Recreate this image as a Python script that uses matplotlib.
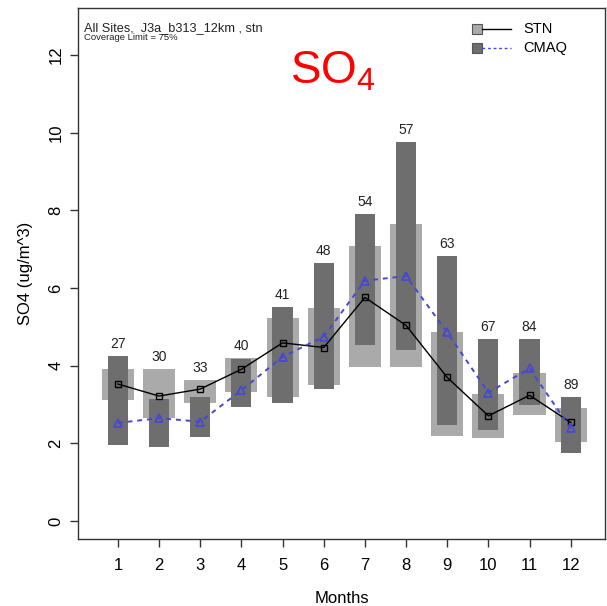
import matplotlib
matplotlib.use("Agg")
import matplotlib.pyplot as plt
from matplotlib.patches import Rectangle
from matplotlib.lines import Line2D

plt.rcParams['font.family'] = ['Liberation Sans', 'DejaVu Sans']

months = [1, 2, 3, 4, 5, 6, 7, 8, 9, 10, 11, 12]
counts = [27, 30, 33, 40, 41, 48, 54, 57, 63, 67, 84, 89]
stn_q1 = [3.12, 2.65, 3.05, 3.33, 3.20, 3.50, 3.96, 3.97, 2.19, 2.15, 2.73, 2.03]
stn_q3 = [3.91, 3.91, 3.63, 4.21, 5.22, 5.49, 7.09, 7.64, 4.88, 3.27, 3.82, 2.92]
cmaq_q1 = [1.97, 1.91, 2.17, 2.93, 3.03, 3.40, 4.53, 4.40, 2.47, 2.34, 2.99, 1.76]
cmaq_q3 = [4.25, 3.14, 3.20, 4.18, 5.52, 6.64, 7.90, 9.75, 6.82, 4.68, 4.68, 3.20]
stn_median = [3.53, 3.22, 3.40, 3.91, 4.59, 4.47, 5.76, 5.04, 3.70, 2.71, 3.24, 2.54]
cmaq_median = [2.53, 2.65, 2.56, 3.37, 4.23, 4.75, 6.19, 6.31, 4.86, 3.31, 3.93, 2.39]

light = '#aaaaaa'
dark = '#6e6e6e'
blue = '#4646d8'

fig = plt.figure(figsize=(6.07, 6.06), dpi=100)
ax = fig.add_axes([0.1285, 0.1106, 0.868, 0.876])

ax.bar(months, [b - a for a, b in zip(stn_q1, stn_q3)], bottom=stn_q1,
       width=0.78, color=light, edgecolor='none', zorder=1)
ax.bar(months, [b - a for a, b in zip(cmaq_q1, cmaq_q3)], bottom=cmaq_q1,
       width=0.49, color=dark, edgecolor='none', zorder=2)

ax.plot(months, stn_median, color='black', lw=1.0, marker='s', ms=5,
        mfc='none', mec='black', mew=1.0, zorder=4)
ax.plot(months, cmaq_median, color=blue, lw=1.4, ls=(0, (2.5, 2.5)), marker='^',
        ms=5.5, mfc='none', mec=blue, mew=1.2, zorder=5)

for m, c, t1, t2 in zip(months, counts, stn_q3, cmaq_q3):
    ax.text(m, max(t1, t2) + 0.31, str(c), ha='center', va='center', fontsize=10,
            color='#222222')

ax.set_xlim(0.03, 12.83)
ax.set_ylim(-0.46, 13.21)
ax.set_xticks(months)
ax.set_yticks([0, 2, 4, 6, 8, 10, 12])
ax.tick_params(direction='out', length=6, width=1, labelsize=12, color='#333333')
ax.tick_params(axis='x', pad=8)
ax.tick_params(axis='y', pad=4.5)
for lab in ax.get_yticklabels():
    lab.set_rotation(90)
    lab.set_va('center')
for s in ax.spines.values():
    s.set_color('#333333')
    s.set_linewidth(1.0)

ax.set_xlabel('Months', fontsize=12, labelpad=13)
ax.set_ylabel('SO4 (ug/m^3)', fontsize=12, labelpad=11)

ax.text(0.012, 0.962, 'All Sites,  J3a_b313_12km , stn', transform=ax.transAxes,
        fontsize=9.2, va='center', ha='left', color='#222222')
ax.text(0.012, 0.944, 'Coverage Limit = 75%', transform=ax.transAxes,
        fontsize=6.8, va='center', ha='left', color='#222222')

fig.text(0.477, 0.863, r'$\mathregular{SO_4}$', color='red', fontsize=33,
         ha='left', va='baseline')

# legend
for yc, fc, ls, lc in [(29, light, '-', 'black'), (48, dark, (0, (2, 2)), blue)]:
    yf = 1 - yc / 606
    fig.patches.append(Rectangle((472 / 607, yf - 4.5 / 606), 10 / 607, 9 / 606,
                                 transform=fig.transFigure, facecolor=fc,
                                 edgecolor='#555555', lw=0.8))
    fig.lines.append(Line2D([482 / 607, 511 / 607], [yf, yf], transform=fig.transFigure,
                            color=lc, ls=ls, lw=1.0))
fig.text(523 / 607, 1 - 29 / 606, 'STN', fontsize=10.5, va='center', ha='left')
fig.text(523 / 607, 1 - 48 / 606, 'CMAQ', fontsize=10.5, va='center', ha='left')

fig.savefig('out.png', dpi=100)
